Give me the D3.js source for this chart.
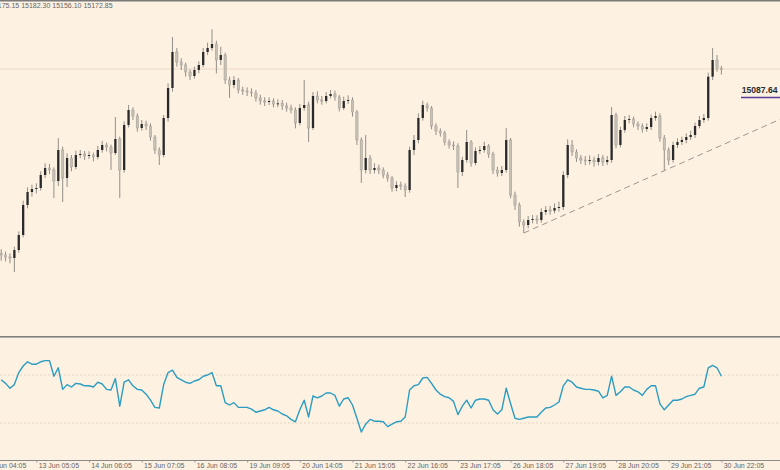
<!DOCTYPE html>
<html><head><meta charset="utf-8">
<script src="https://cdn.jsdelivr.net/npm/d3@7"></script>
<style>html,body{margin:0;padding:0;background:#fdf1e2;}svg{display:block;}</style>
</head><body><svg id="c" width="780" height="470"></svg>
<script>
// ---- data ----
const tickLabels = ["12 Jun 04:05","13 Jun 05:05","14 Jun 06:05","15 Jun 07:05","16 Jun 08:05","19 Jun 09:05","20 Jun 14:05","21 Jun 15:05","22 Jun 16:05","23 Jun 17:05","26 Jun 18:05","27 Jun 19:05","28 Jun 20:05","29 Jun 21:05","30 Jun 22:05"];
const tickBars = [-4,8,20,32,44,56,68,80,92,104,116,128,140,152,164];
const firstOpen = 14620;
const closes = [
14615,14609,14606,14630,14675,14765,14804,14813,14816,14855,
14876,14870,14837,14930,14846,14906,14879,14915,14918,14912,
14915,14909,14930,14945,14939,14921,14963,14870,15005,15050,
15032,14996,15008,15002,14969,14930,14915,15026,15116,15224,
15194,15185,15164,15152,15170,15185,15224,15236,15248,15200,
15215,15140,15125,15140,15110,15107,15104,15101,15086,15077,
15074,15077,15068,15070,15062,15056,15050,15011,15056,15065,
14996,15092,15080,15077,15092,15098,15089,15056,15077,15080,
15044,14960,14870,14906,14870,14876,14870,14855,14846,14816,
14825,14822,14810,14930,14960,15026,15065,15056,15002,14987,
14981,14954,14945,14942,14864,14900,14954,14891,14927,14930,
14942,14918,14870,14861,14870,14960,14795,14765,14714,14705,
14720,14723,14720,14744,14750,14748,14756,14759,14855,14945,
14924,14906,14900,14897,14900,14894,14906,14894,14900,15035,
14945,14990,15020,15023,15008,15002,14993,14999,15026,15032,
14966,14930,14900,14945,14954,14960,14969,14975,15002,15020,
15026,15150,15200,15175.15,15172.85];
const highs = [
14632,14625,14620,14640,14686,14778,14818,14826,14830,14866,
14890,14888,14878,14966,14940,14920,14915,14928,14930,14927,
14926,14922,14942,14958,14952,14946,15029,14970,15016,15065,
15058,15040,15020,15018,15010,14975,14938,15035,15130,15269,
15236,15205,15192,15172,15180,15196,15236,15252,15292,15258,
15240,15222,15150,15152,15146,15120,15118,15115,15110,15096,
15088,15088,15085,15082,15080,15072,15066,15058,15068,15140,
15075,15104,15106,15092,15104,15110,15108,15095,15090,15094,
15088,15050,14968,14975,14915,14890,14886,14878,14864,14852,
14836,14835,14830,14940,14975,15040,15078,15072,15062,15010,
14995,14988,14962,14956,14950,14910,14990,14960,14938,14942,
14955,14948,14925,14880,14882,14996,14966,14805,14772,14722,
14732,14735,14734,14755,14762,14762,14770,14775,14866,14962,
14960,14932,14915,14912,14914,14910,14918,14915,14912,15059,
15042,15000,15032,15035,15030,15016,15010,15010,15036,15045,
15040,14975,14938,14955,14965,14970,14980,14988,15012,15032,
15038,15162,15236,15215,15182.30];
const lows = [
14598,14596,14590,14564,14622,14668,14755,14790,14800,14808,
14846,14858,14786,14822,14774,14819,14866,14872,14905,14900,
14903,14896,14902,14922,14926,14870,14915,14786,14862,14998,
15020,14985,14988,14990,14958,14918,14885,14908,15015,15105,
15180,15170,15150,15140,15144,15160,15178,15215,15228,15160,
15185,15128,15086,15115,15100,15095,15092,15090,15075,15066,
15062,15065,15058,15058,15050,15045,15040,14995,15004,15048,
14954,14990,15070,15066,15070,15085,15078,15046,15050,15068,
15030,14945,14831,14860,14858,14860,14858,14845,14835,14805,
14806,14810,14789,14802,14915,14950,15018,15045,14992,14975,
14970,14944,14934,14930,14816,14852,14892,14880,14884,14918,
14922,14906,14858,14850,14852,14862,14785,14750,14700,14681,
14695,14710,14708,14712,14735,14736,14740,14745,14750,14846,
14912,14894,14888,14884,14886,14880,14884,14882,14885,14892,
14935,14938,14982,15010,14998,14990,14982,14985,14990,15018,
14955,14870,14885,14892,14936,14945,14950,14960,14966,14995,
15012,15018,15140,15165,15156.10];
const rsi = [
66,63,59,62,72,77.5,81,79,79,81,
82,82,69,76,58,62,60,63,62.5,61,
61,60,64,62.5,58,57.5,67,44,64,66,
61,58,57.5,54,49,43,42.5,62,72,74,
68,66,64,63,65,66,69,70,72,61,
61,47,45,47,43,43,43,41.5,39,40,
41,43,41,40,37.5,36,33,31,41,49,
35,52.5,51,52.5,55,55,53,44,50,51,
45,34,22.5,29,33,31.5,31.5,31,27,29,
31,31.5,35,57.5,61,62,67.5,68,63,57.5,
54,52,51,48,37,44,49,42.5,49,50,
50,49,41,37.5,41,59,46,34,33,34,
35,35,35,39,42.5,43,45,47.5,61,66,
64,60,59,58,58,57.5,56.5,51,53,69,
53,56,60,60,57.5,56,53,58,61,61,
46,41,45,49,49,50,52,53,54,59,
60,76,78,76,69];
const rsiLevels = [70, 30];
const hLineLevel = 15087.64;
const trendAnchors = [{bar:119, price:14681},{bar:151, price:14868}];

// ---- drawing ----
const W = 780, H = 470;
const svg = d3.select("#c");
const FONT = "'Liberation Sans', Arial, sans-serif";
svg.append("rect").attr("width",W).attr("height",H).attr("fill","#fdf1e2");

const n = closes.length;
const bars = closes.map((c,i)=>({i, o: i===0?firstOpen:closes[i-1], h: highs[i], l: lows[i], c}));
const last = bars[n-1];

const x = d3.scaleLinear().domain([0, n-1]).range([1.2, 721.4]);
const y = d3.scaleLinear().domain([14369, 15380]).range([337, 0]);
const yr = d3.scaleLinear().domain([0, 100]).range([459, 339]);

const main = svg.append("g");
main.append("clipPath").attr("id","mc").append("rect").attr("x",0).attr("y",0).attr("width",W).attr("height",336);
const mg = main.append("g").attr("clip-path","url(#mc)");

// bid line
mg.append("line").attr("x1",0).attr("x2",W).attr("y1",y(last.c)).attr("y2",y(last.c))
  .attr("stroke","#efd9c6").attr("stroke-width",1);

// trend line (dashed), extended to right edge
const a = trendAnchors[0], b = trendAnchors[1];
const slope = (b.price - a.price)/(b.bar - a.bar);
const endBar = x.invert(W);
mg.append("line")
  .attr("x1", x(a.bar)).attr("y1", y(a.price))
  .attr("x2", x(endBar)).attr("y2", y(a.price + slope*(endBar - a.bar)))
  .attr("stroke","#9d978e").attr("stroke-width",1).attr("stroke-dasharray","6,4");

// candles
const bw = 2.3;
const cg = mg.append("g");
cg.selectAll("line.w").data(bars).join("line").attr("class","w")
  .attr("x1",d=>x(d.i)).attr("x2",d=>x(d.i)).attr("y1",d=>y(d.h)).attr("y2",d=>y(d.l))
  .attr("stroke","#938f88").attr("stroke-width",1);
cg.selectAll("rect.b").data(bars).join("rect").attr("class","b")
  .attr("x",d=>x(d.i)-bw/2).attr("width",bw)
  .attr("y",d=>y(Math.max(d.o,d.c)))
  .attr("height",d=>Math.max(1, Math.abs(y(d.o)-y(d.c))))
  .attr("fill",d=>d.c>=d.o?"#2a2a2a":"#c6c0b5")
  .attr("stroke",d=>d.c>=d.o?"none":"#a29d94").attr("stroke-width",0.5);

// horizontal level label
const hy = y(hLineLevel);
mg.append("line").attr("x1",741).attr("x2",W).attr("y1",hy).attr("y2",hy)
  .attr("stroke","#5a3d9c").attr("stroke-width",1.5);
mg.append("text").attr("x",741.7).attr("y",hy-4.2).text(d3.format(".2f")(hLineLevel))
  .attr("font-family",FONT).attr("font-size","8.6px").attr("font-weight","bold").attr("fill","#2b2b2b");

// top-left OHLC text
const ohlc = [last.o, last.h, last.l, last.c].map(d3.format(".2f")).join(" ");
const t = svg.append("text").attr("y",7.6).attr("font-family",FONT).attr("font-size","7px").attr("fill","#666").text(ohlc);
const tmp = svg.append("text").attr("font-family",FONT).attr("font-size","7px").text("151");
const off = tmp.node().getComputedTextLength(); tmp.remove();
t.attr("x", 1.7 - off);

// frame lines
svg.append("rect").attr("x",0).attr("y",0).attr("width",W).attr("height",1.5).attr("fill","#7b7b7b");
svg.append("rect").attr("x",0).attr("y",336).attr("width",W).attr("height",1.6).attr("fill","#808080");

// RSI panel
const rg = svg.append("g");
rg.selectAll("line.lv").data(rsiLevels).join("line").attr("class","lv")
  .attr("x1",0).attr("x2",W).attr("y1",d=>yr(d)).attr("y2",d=>yr(d))
  .attr("stroke","#e6d3c0").attr("stroke-width",1).attr("stroke-dasharray","2,2");
rg.append("path").datum(rsi)
  .attr("d", d3.line().x((d,i)=>x(i)).y(d=>yr(d)))
  .attr("fill","none").attr("stroke","#2c9cc2").attr("stroke-width",1.4).attr("stroke-linejoin","round");

// bottom axis
svg.append("line").attr("x1",0).attr("x2",W).attr("y1",460.5).attr("y2",460.5).attr("stroke","#8a8a8a").attr("stroke-width",1);
const axis = d3.axisBottom(x).tickValues(tickBars).tickFormat((d,i)=>tickLabels[i]).tickSize(2).tickSizeOuter(0);
const ax = svg.append("g").attr("transform","translate(0,460.5)").call(axis);
ax.select(".domain").remove();
ax.selectAll(".tick line").attr("stroke","#9a9a9a");
ax.selectAll(".tick text").attr("text-anchor","start").attr("x",1.8).attr("y",2.5)
  .attr("font-family",FONT).attr("font-size","7px").attr("fill","#666");
</script></body></html>
